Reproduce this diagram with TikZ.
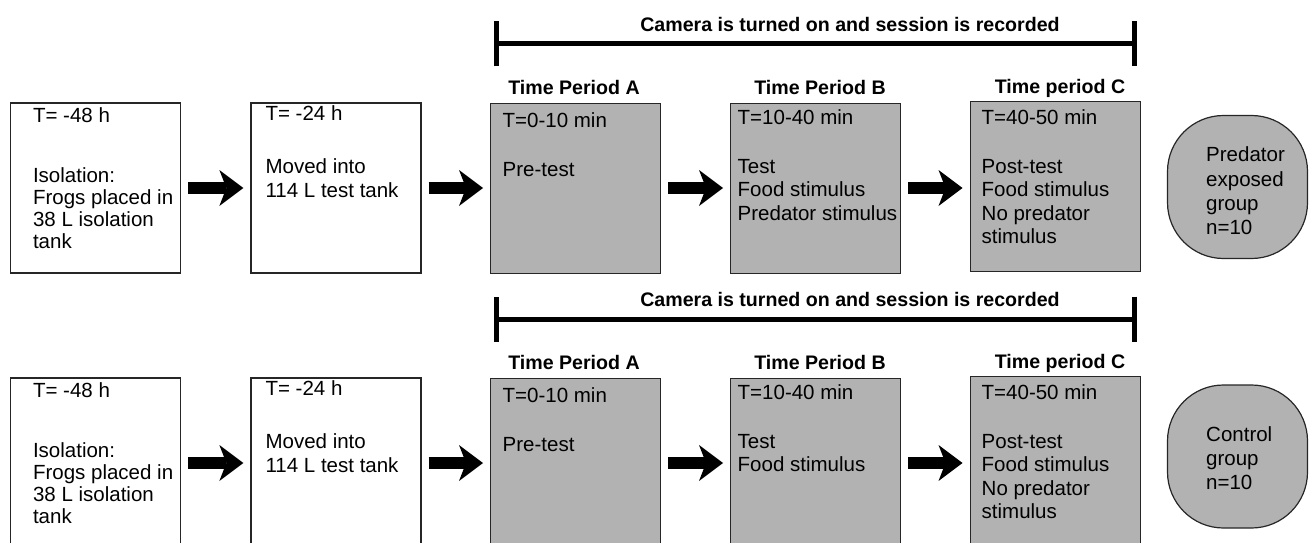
\documentclass[tikz,border=0pt]{standalone}
\usepackage{fontspec}
\setmainfont{Liberation Sans}
\usetikzlibrary{arrows.meta}
\definecolor{boxgray}{RGB}{178,178,178}

\begin{document}
\begin{tikzpicture}[x=1pt,y=-1pt,
  box/.style={draw=black!85,line width=1.3pt,minimum width=170pt,minimum height=170pt,inner sep=0pt},
  graybox/.style={box,fill=boxgray,line width=1pt},
  txt/.style={anchor=north west,align=left,inner sep=0pt,font=\fontsize{20.5}{23.5}\selectfont},
  head/.style={inner sep=0pt,font=\bfseries\fontsize{19.6}{22}\selectfont},
  bigarrow/.style={line width=12pt,-{Stealth[length=24pt,width=36pt,inset=7pt,line width=0pt]},shorten <=7pt,shorten >=7pt},
  group/.style={draw=black!85,line width=1.2pt,fill=boxgray,rounded corners=56pt,minimum width=140pt,minimum height=143pt},
  grptxt/.style={anchor=west,align=left,inner sep=0pt,font=\fontsize{20.5}{24.3}\selectfont},
  recbar/.style={line width=5pt,{Bar[width=45pt]}-{Bar[width=45pt]}}]
\useasboundingbox (0,0) rectangle (1309,543);
\clip (0,0) rectangle (1309,543);
\foreach \r/\dy/\gy/\ty/\btext/\gtext in {p/0/187/4/{Test\\Food stimulus\\Predator stimulus}/{Predator\\exposed\\group\\n=10},
    c/275/181.5/1.5/{Test\\Food stimulus}/{Control\\group\\n=10}}{
  % recording bar
  \node[head] (cam\r) at (850,24+\dy) {Camera is turned on and session is recorded};
  \coordinate (bl\r) at (494,44+\dy);
  \coordinate (br\r) at (1137,44+\dy);
  \draw[recbar] (bl\r) -- (br\r);
  \node[head] (ha\r) at (574,87+\dy) {Time Period A};
  \node[head] (hb\r) at (820,87+\dy) {Time Period B};
  \node[head] (hc\r) at (1060,88+\dy) {Time period C};
  % boxes
  \node[box] (iso\r) at (95.5,188+\dy) {};
  \node[box] (move\r) at (336,188+\dy) {};
  \node[graybox] (pa\r) at (575.5,188+\dy) {};
  \node[graybox] (pb\r) at (815.5,188+\dy) {};
  \node[graybox] (pc\r) at (1055,186+\dy) {};
  \node[group] (grp\r) at (1237.5,\gy+\dy) {};
  \node[txt,font=\fontsize{20.5}{22}\selectfont] (isot\r) at ([xshift=23pt,yshift=-5pt]iso\r.north west) {T= -48 h\\[38pt]Isolation:\\Frogs placed in\\38 L isolation\\tank};
  \node[txt] (movet\r) at ([xshift=15pt,yshift=-3pt]move\r.north west) {T= -24 h\\[30pt]Moved into\\114 L test tank};
  \node[txt] (pat\r) at ([xshift=12.5pt,yshift=-10pt]pa\r.north west) {T=0-10 min\\[25pt]Pre-test};
  \node[txt] (pbt\r) at ([xshift=7.5pt,yshift=-7pt]pb\r.north west) {T=10-40 min\\[25pt]\btext};
  \node[txt] (pct\r) at ([xshift=12pt,yshift=-9pt]pc\r.north west) {T=40-50 min\\[25pt]Post-test\\Food stimulus\\No predator\\stimulus};
  \node[grptxt] (grpt\r) at ([xshift=-31.5pt,yshift=-\ty pt]grp\r.center) {\gtext};
  % arrows
  \draw[bigarrow] (iso\r) -- (move\r);
  \draw[bigarrow] (move\r) -- (pa\r);
  \draw[bigarrow] (pa\r) -- (pb\r);
  \draw[bigarrow] (pb\r) -- (pb\r -| pc\r.west);
}
\end{tikzpicture}
\end{document}
